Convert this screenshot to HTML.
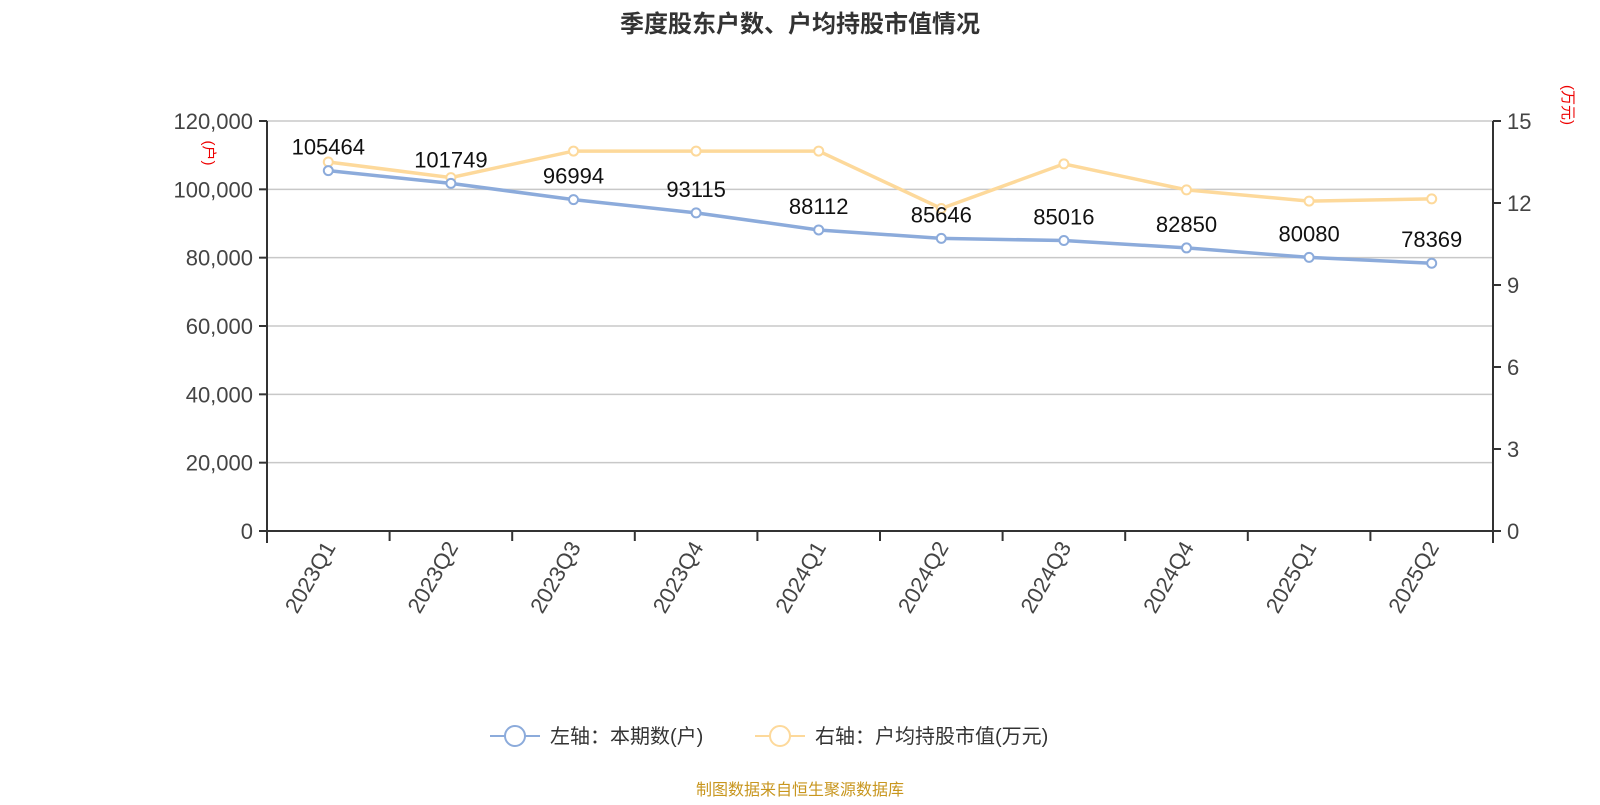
<!DOCTYPE html>
<html><head><meta charset="utf-8"><style>
body{margin:0;background:#fff;}
svg text{font-family:"Liberation Sans","Noto Sans CJK SC",sans-serif;}
</style></head><body>
<svg width="1600" height="800" xmlns="http://www.w3.org/2000/svg" id="chart">
<text x="800" y="32" text-anchor="middle" font-size="24" font-weight="bold" fill="#333">季度股东户数、户均持股市值情况</text>
<g id="grid"></g><g id="axes"></g><g id="series"></g><g id="labels"></g>
<text transform="translate(204,153) rotate(90)" text-anchor="middle" font-size="15" fill="#e00">(户)</text>
<text transform="translate(1563,105) rotate(90)" text-anchor="middle" font-size="15" fill="#e00">(万元)</text>
<g>
<g><line x1="490" y1="736" x2="540" y2="736" stroke="#8cabdb" stroke-width="2"/><circle cx="515" cy="736" r="10" fill="#fff" stroke="#8cabdb" stroke-width="2"/><text x="550" y="743" font-size="20" fill="#333">左轴：本期数(户)</text></g>
<g><line x1="755" y1="736" x2="805" y2="736" stroke="#fdd99b" stroke-width="2"/><circle cx="780" cy="736" r="10" fill="#fff" stroke="#fdd99b" stroke-width="2"/><text x="815" y="743" font-size="20" fill="#333">右轴：户均持股市值(万元)</text></g>
</g>
<text x="800" y="795" text-anchor="middle" font-size="16" fill="#c8961e">制图数据来自恒生聚源数据库</text>
</svg>
<script>
const categories=["2023Q1","2023Q2","2023Q3","2023Q4","2024Q1","2024Q2","2024Q3","2024Q4","2025Q1","2025Q2"];
const households=[105464,101749,96994,93115,88112,85646,85016,82850,80080,78369];
const avgValue=[13.5,12.93,13.9,13.9,13.9,11.8,13.43,12.48,12.07,12.15];
const leftTicks=[0,20000,40000,60000,80000,100000,120000];
const rightTicks=[0,3,6,9,12,15];
const NS="http://www.w3.org/2000/svg";
const X0=267,X1=1493,Y0=531,Y1=121;
const bw=(X1-X0)/categories.length;
const xAt=i=>X0+bw*(i+0.5);
const yL=v=>Y0-(v/120000)*(Y0-Y1);
const yR=v=>Y0-(v/15)*(Y0-Y1);
function mk(tag,attrs,parent,txt){const e=document.createElementNS(NS,tag);for(const k in attrs)e.setAttribute(k,attrs[k]);if(txt!==undefined)e.textContent=txt;document.getElementById(parent).appendChild(e);return e;}
const fmt=v=>v.toLocaleString('en-US');
leftTicks.forEach(t=>{
  const y=yL(t);
  if(t>0){const g=mk('line',{x1:X0,x2:X1,y1:y,y2:y,stroke:'#c8c8c8','stroke-width':1.5},'grid');
  
  }
  mk('line',{x1:X0-8,x2:X0,y1:y,y2:y,stroke:'#333','stroke-width':2},'axes');
  const l=mk('text',{x:X0-14,y:y+8,'text-anchor':'end','font-size':22,fill:'#444'},'axes',fmt(t));
  
  
});
rightTicks.forEach(t=>{
  const y=yR(t);
  mk('line',{x1:X1,x2:X1+8,y1:y,y2:y,stroke:'#333','stroke-width':2},'axes');
  const l=mk('text',{x:X1+14,y:y+8,'font-size':22,fill:'#444'},'axes',String(t));
  
  
});
const la=mk('line',{x1:X0,x2:X0,y1:Y1,y2:Y0+12,stroke:'#333','stroke-width':2},'axes');


const ra=mk('line',{x1:X1,x2:X1,y1:Y1,y2:Y0+12,stroke:'#333','stroke-width':2},'axes');


const xa=mk('line',{x1:X0,x2:X1,y1:Y0,y2:Y0,stroke:'#333','stroke-width':2},'axes');


for(let i=0;i<=categories.length;i++){const x=X0+bw*i;mk('line',{x1:x,x2:x,y1:Y0,y2:Y0+10,stroke:'#333','stroke-width':2},'axes');}
categories.forEach((c,i)=>{
  const x=xAt(i)+8,y=Y0+16;
  const t=mk('text',{transform:`translate(${x},${y}) rotate(-60)`,'text-anchor':'end','font-size':22,fill:'#444'},'axes',c);
  
  
});
function series(vals,yf,color,name){
  const p=mk('polyline',{points:vals.map((v,i)=>xAt(i)+','+yf(v)).join(' '),fill:'none',stroke:color,'stroke-width':3.5},'series');
  
  
  vals.forEach((v,i)=>{
    const c=mk('circle',{cx:xAt(i),cy:yf(v),r:4.5,fill:'#fff',stroke:color,'stroke-width':2},'series');
    
    
  });
}
series(avgValue,yR,'#fdd99b','avg-value');
series(households,yL,'#8cabdb','households');
households.forEach((v,i)=>{
  const t=mk('text',{x:xAt(i),y:yL(v)-16,'text-anchor':'middle','font-size':22,fill:'#111'},'labels',String(v));
  
  
});
</script>
</body></html>
